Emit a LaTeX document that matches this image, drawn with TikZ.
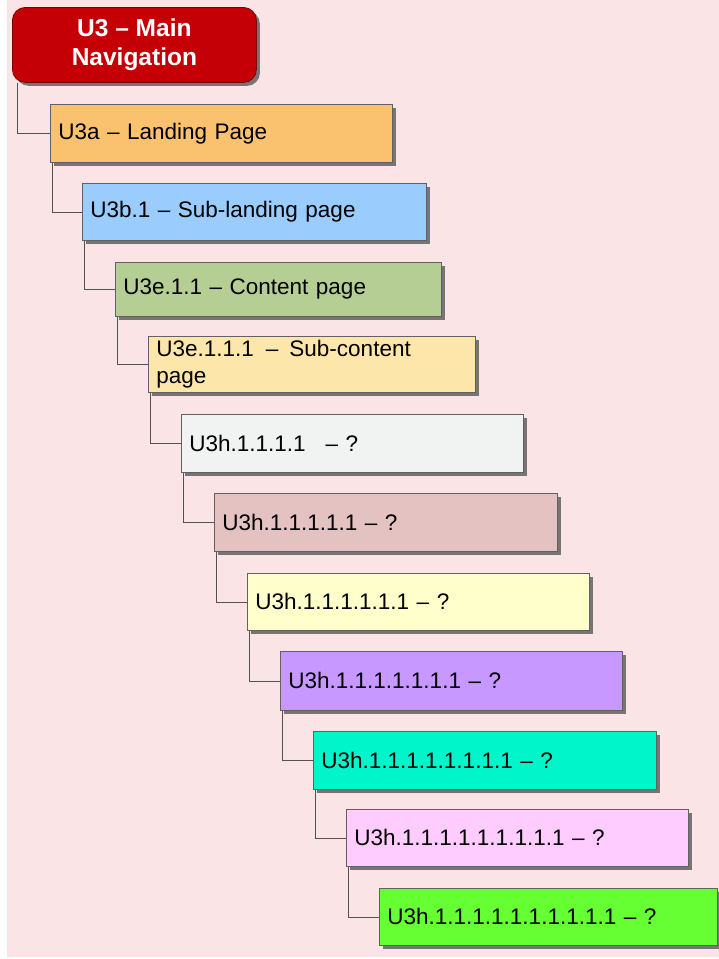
\documentclass[tikz,border=0pt]{standalone}
\usepackage{fontspec}
\setmainfont{Liberation Sans}
\usetikzlibrary{shadows}
\definecolor{bgpink}{HTML}{FBE4E5}
\definecolor{rootred}{HTML}{C40006}
\definecolor{rootedge}{HTML}{7A0000}
\definecolor{cOrange}{HTML}{FAC26F}
\definecolor{cBlue}{HTML}{9ACCFE}
\definecolor{cSage}{HTML}{B5CE93}
\definecolor{cCream}{HTML}{FDE6AA}
\definecolor{cGray}{HTML}{F1F3F3}
\definecolor{cDusty}{HTML}{E3C2C1}
\definecolor{cLemon}{HTML}{FFFFCC}
\definecolor{cPurple}{HTML}{C798FF}
\definecolor{cCyan}{HTML}{00F5CA}
\definecolor{cPink}{HTML}{FFCCFF}
\definecolor{cLime}{HTML}{66FF33}
\begin{document}
\begin{tikzpicture}[x=1pt,y=-1pt,
  pbox/.style={draw=black!62, line width=0.8pt, anchor=north west,
    inner xsep=8pt, inner ysep=0pt, align=left,
    font=\fontsize{22.5}{27}\selectfont,
    drop shadow={shadow xshift=3.5pt, shadow yshift=-3.5pt, fill=black!62, opacity=0.85}},
  rootbox/.style={draw=rootedge, line width=0.8pt, fill=rootred, anchor=north west,
    rounded corners=13pt, text=white, align=center, inner sep=0pt,
    font=\fontsize{24.5}{29.5}\selectfont\bfseries,
    drop shadow={shadow xshift=3.5pt, shadow yshift=-3.5pt, fill=black!62, opacity=0.85}},
  link/.style={draw=black!68, line width=0.8pt}]
\useasboundingbox (0,0) rectangle (719,959);
\fill[white] (0,0) rectangle (719,959);
\fill[bgpink] (7,0) rectangle (719,957);

\node[rootbox, minimum width=244pt, minimum height=75pt] (r) at (12,7) {U3 -- Main\\Navigation};

\node[pbox, fill=cOrange, minimum height=58pt, text width=326pt] (b1) at (50,104) {U3a -- Landing Page};
\node[pbox, fill=cBlue, minimum height=57pt, text width=328pt] (b2) at (82,183) {U3b.1 -- Sub-landing page};
\node[pbox, fill=cSage, minimum height=54pt, text width=310pt] (b3) at (115,262) {U3e.1.1 -- Content page};
\node[pbox, fill=cCream, minimum height=56pt, text width=311pt] (b4) at (148,336) {U3e.1.1.1\hspace{12pt}--\hspace{11pt}Sub-content\\page};
\node[pbox, fill=cGray, minimum height=58pt, text width=326pt] (b5) at (181,414) {U3h.1.1.1.1\hspace{20pt}-- ?};
\node[pbox, fill=cDusty, minimum height=58pt, text width=327pt] (b6) at (214,493) {U3h.1.1.1.1.1 -- ?};
\node[pbox, fill=cLemon, minimum height=57pt, text width=326pt] (b7) at (247,573) {U3h.1.1.1.1.1.1 -- ?};
\node[pbox, fill=cPurple, minimum height=59pt, text width=326pt] (b8) at (280,651) {U3h.1.1.1.1.1.1.1 -- ?};
\node[pbox, fill=cCyan, minimum height=58pt, text width=327pt] (b9) at (313,731) {U3h.1.1.1.1.1.1.1.1 -- ?};
\node[pbox, fill=cPink, minimum height=57pt, text width=326pt] (b10) at (346,809) {U3h.1.1.1.1.1.1.1.1.1 -- ?};
\node[pbox, fill=cLime, minimum height=57pt, text width=322pt] (b11) at (379,888) {U3h.1.1.1.1.1.1.1.1.1.1 -- ?};

\draw[link] ([xshift=5pt]r.south west) |- (b1.west);
\draw[link] ([xshift=2.5pt]b1.south west) |- (b2.west);
\draw[link] ([xshift=2.5pt]b2.south west) |- (b3.west);
\draw[link] ([xshift=2.5pt]b3.south west) |- (b4.west);
\draw[link] ([xshift=2.5pt]b4.south west) |- (b5.west);
\draw[link] ([xshift=2.5pt]b5.south west) |- (b6.west);
\draw[link] ([xshift=2.5pt]b6.south west) |- (b7.west);
\draw[link] ([xshift=2.5pt]b7.south west) |- (b8.west);
\draw[link] ([xshift=2.5pt]b8.south west) |- (b9.west);
\draw[link] ([xshift=2.5pt]b9.south west) |- (b10.west);
\draw[link] ([xshift=2.5pt]b10.south west) |- (b11.west);
\end{tikzpicture}
\end{document}
